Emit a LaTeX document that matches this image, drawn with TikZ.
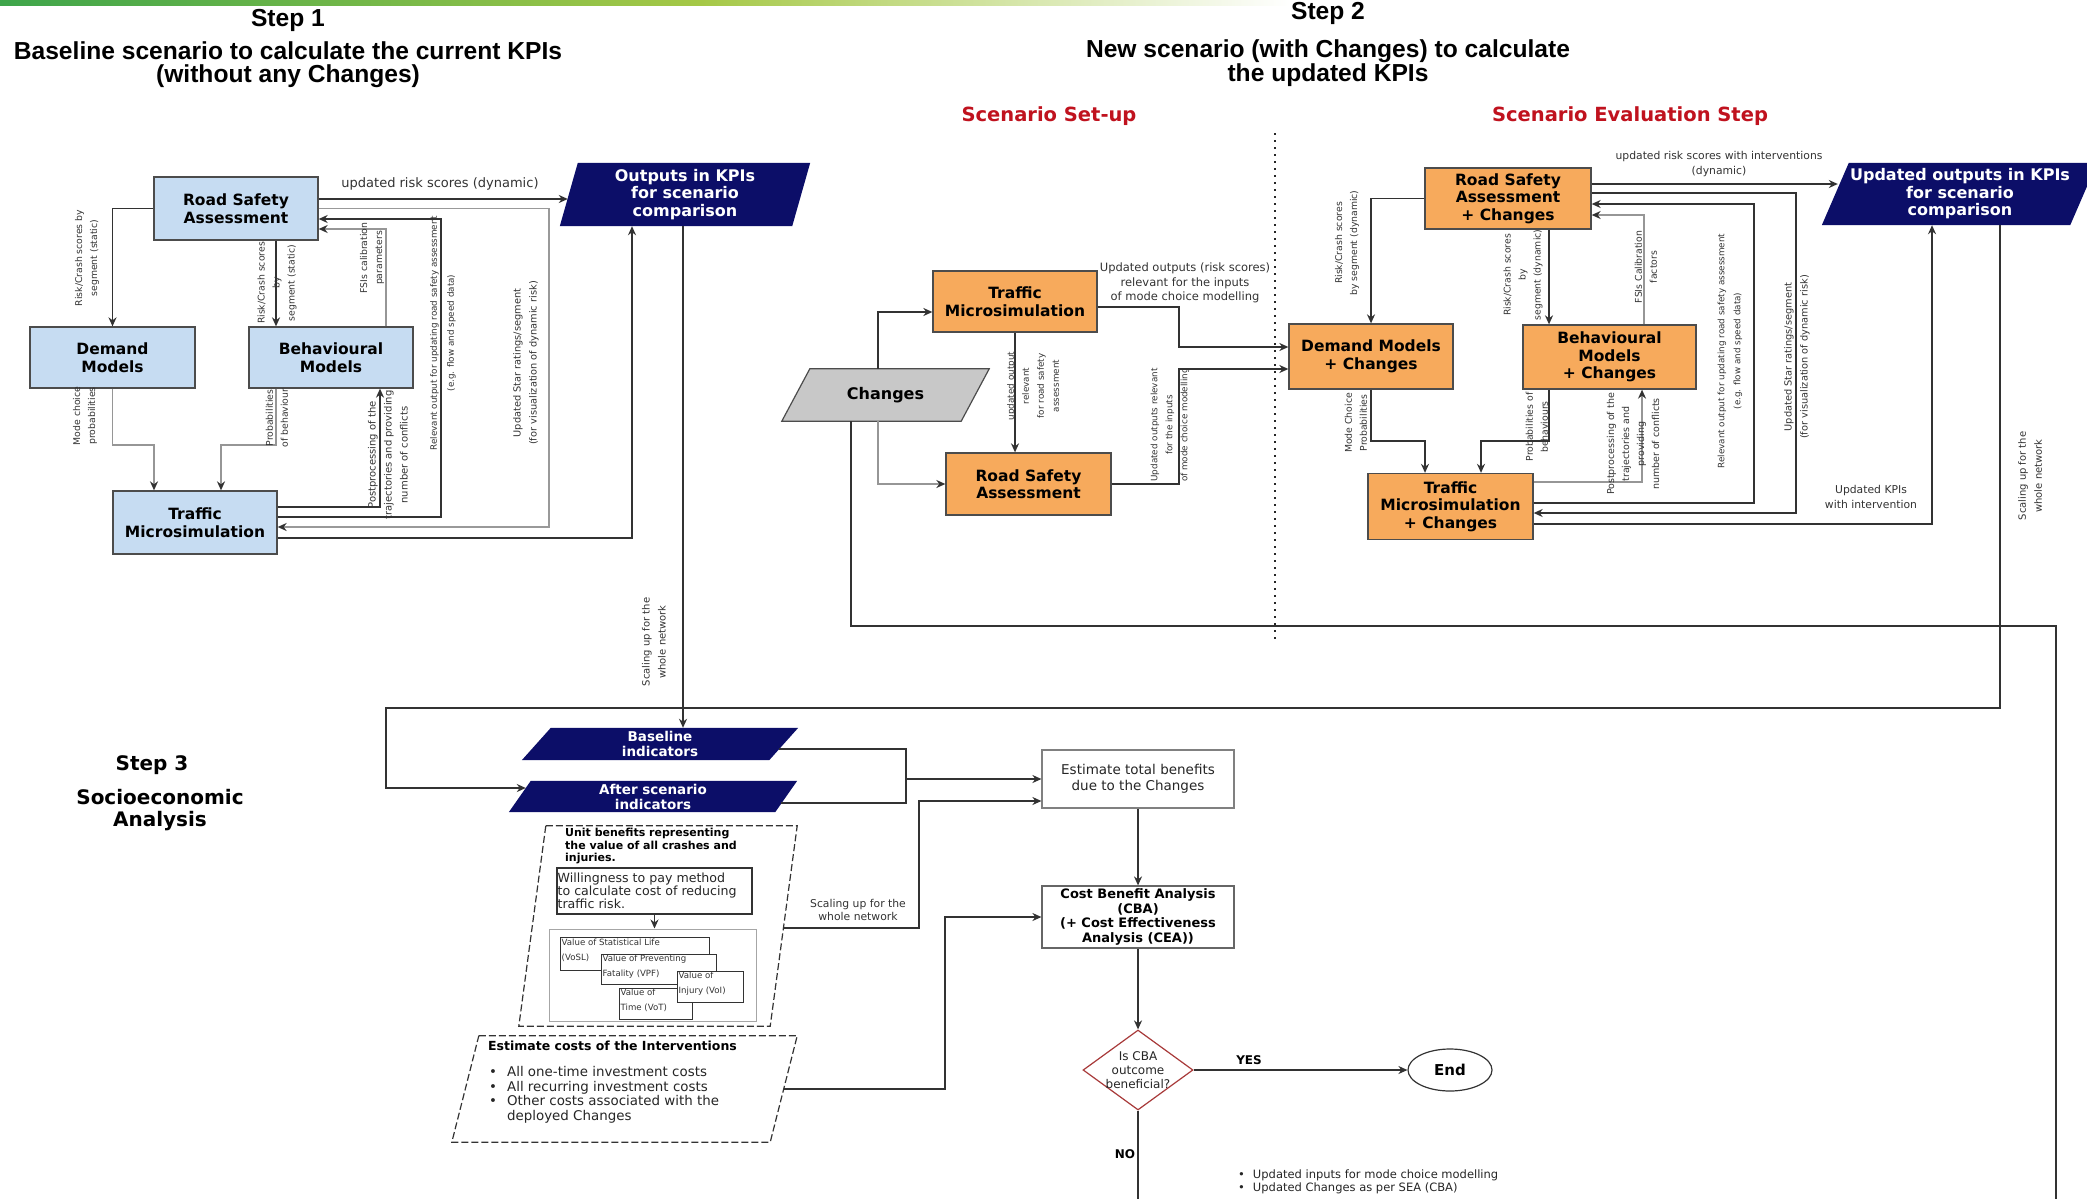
\documentclass[tikz,border=0pt]{standalone}
\usepackage{fontspec}
\setmainfont{DejaVu Sans}
\newfontfamily\libsans{Liberation Sans}
\usetikzlibrary{arrows.meta,calc,shapes.geometric}
\definecolor{lblue}{RGB}{198,220,242}
\definecolor{orng}{RGB}{247,170,92}
\definecolor{navy}{RGB}{12,14,104}
\definecolor{chgray}{RGB}{200,200,200}
\definecolor{redt}{RGB}{192,18,30}
\definecolor{dred}{RGB}{168,58,58}
\definecolor{lnk}{RGB}{50,50,50}
\definecolor{glnk}{RGB}{150,150,150}
\definecolor{gA}{RGB}{62,165,75}
\definecolor{gB}{RGB}{165,200,70}
\newcommand\fsz[2]{\fontsize{#1}{#2}\selectfont}
\newcommand\para[7]{%
 \node[inner sep=0pt, minimum width=#4pt, minimum height=#5pt] (#1) at (#2,#3) {};
 \path[#7] ($(#1.north west)+(#6,0)$) -- (#1.north east) -- ($(#1.south east)+(-#6,0)$) -- (#1.south west) -- cycle;}
\tikzset{
 bx/.style={draw=black!70, line width=1.3pt, inner sep=0pt, align=center, font=\bfseries\fsz{15.5}{17.5}},
 arr/.style={draw=lnk, line width=1.5pt, -{Stealth[length=9pt,width=8pt,color=lnk]}},
 garr/.style={draw=glnk, line width=1.5pt, -{Stealth[length=9pt,width=8pt,color=lnk]}},
 ln/.style={draw=lnk, line width=1.5pt},
 rl/.style={rotate=90, align=center, inner sep=0pt, text=black!80, font=\fsz{9.3}{15}},
 hl/.style={align=center, inner sep=0pt, text=black!80, font=\fsz{10.8}{14.5}},
 wt/.style={text=white, align=center, inner sep=0pt, font=\bfseries\fsz{16}{17.5}},
 wt2/.style={text=white, align=center, inner sep=0pt, font=\bfseries\fsz{13.5}{15}},
 hd/.style={align=center, inner sep=0pt, font=\libsans\bfseries\fsz{24.6}{23}},
 sb/.style={draw=black!80, fill=white, line width=1pt, inner sep=0pt},
 st/.style={font=\fsz{8.6}{15}, align=left, inner sep=0pt, text=black!80, anchor=north west},
}
\begin{document}
\begin{tikzpicture}[x=1pt,y=-1pt]
\useasboundingbox (0,0) rectangle (2087,1199);
\fill[white] (0,0) rectangle (2087,1199);
\shade[left color=gA, right color=gB] (0,0) rectangle (700,6);
\shade[left color=gB, right color=white] (700,0) rectangle (1290,6);

% headings
\node[hd] (s1) at (288,20) {Step 1};
\node[hd] (s1t) at (288,64.5) {Baseline scenario to calculate the current KPIs\\(without any Changes)};
\node[hd] (s2) at (1328,13) {Step 2};
\node[hd] (s2t) at (1328,63.5) {New scenario (with Changes) to calculate\\the updated KPIs};
\node[font=\bfseries\fsz{19.5}{20}, text=redt, inner sep=0pt] (su) at (1049,116) {Scenario Set-up};
\node[font=\bfseries\fsz{19.5}{20}, text=redt, inner sep=0pt] (se) at (1630,116) {Scenario Evaluation Step};
\node[font=\bfseries\fsz{20}{22}, inner sep=0pt] (s3) at (152,765) {Step 3};
\node[font=\bfseries\fsz{20}{22}, inner sep=0pt, align=center] (s3t) at (160,810) {Socioeconomic\\Analysis};

\draw[line width=2.2pt, dash pattern=on 2pt off 5pt, draw=black!85] (1275,133) -- (1275,639);

% Step 1 nodes
\node[bx, fill=lblue, minimum width=164pt, minimum height=63pt] (rsa1) at (236,208.5) {Road Safety\\Assessment};
\node[bx, fill=lblue, minimum width=165pt, minimum height=61pt] (dm1) at (112.5,357.5) {Demand\\Models};
\node[bx, fill=lblue, minimum width=164pt, minimum height=61pt] (bm1) at (331,357.5) {Behavioural\\Models};
\node[bx, fill=lblue, minimum width=164pt, minimum height=63pt] (tm1) at (195,522.5) {Traffic\\Microsimulation};
\para{out1}{685}{194.5}{250}{63}{18}{fill=navy}
\node[wt] (out1t) at (out1) {Outputs in KPIs\\for scenario\\comparison};

% Step 2 nodes
\node[bx, fill=orng, minimum width=164pt, minimum height=61pt] (tm2) at (1015,301.5) {Traffic\\Microsimulation};
\node[bx, fill=orng, minimum width=165pt, minimum height=62pt] (rsa2) at (1028.5,484) {Road Safety\\Assessment};
\para{ch}{885.5}{395}{207}{52}{28}{fill=chgray, draw=black!70, line width=1.2pt}
\node[font=\bfseries\fsz{16}{18}, inner sep=0pt] (cht) at (ch) {Changes};
\node[bx, fill=orng, minimum width=166pt, minimum height=61pt] (rsa3) at (1508,198.5) {Road Safety\\Assessment\\+ Changes};
\node[bx, fill=orng, minimum width=164pt, minimum height=65pt] (dm3) at (1371,356.5) {Demand Models\\+ Changes};
\node[bx, fill=orng, minimum width=173pt, minimum height=64pt] (bm3) at (1609.5,357) {Behavioural\\Models\\+ Changes};
\node[bx, fill=orng, minimum width=165pt, minimum height=66pt] (tm3) at (1450.5,506.5) {Traffic\\Microsimulation\\+ Changes};
\para{out3}{1959.5}{194}{275}{62}{27}{fill=navy}
\node[wt] (out3t) at (1960,194) {Updated outputs in KPIs\\for scenario\\comparison};

% Step 3 nodes
\para{bi}{660}{744}{276}{32}{29}{fill=navy}
\node[wt2] (bit) at (bi) {Baseline\\indicators};
\para{ai}{653}{796.5}{288}{31}{22}{fill=navy}
\node[wt2] (ait) at (ai) {After scenario\\indicators};
\node[draw=black!50, line width=1.2pt, minimum width=192pt, minimum height=58pt, align=center, inner sep=0pt, font=\fsz{13.5}{16}, text=black!85] (etb) at (1138,779) {Estimate total benefits\\due to the Changes};
\node[draw=black!60, line width=1.2pt, minimum width=192pt, minimum height=62pt, align=center, inner sep=0pt, font=\bfseries\fsz{13}{14.5}] (cba) at (1138,917) {Cost Benefit Analysis\\(CBA)\\(+ Cost Effectiveness\\Analysis (CEA))};
\node[diamond, draw=dred, line width=1.2pt, minimum width=110pt, minimum height=80pt, inner sep=0pt] (dia) at (1138,1070) {};
\node[align=center, inner sep=0pt, font=\fsz{12}{14}, text=black!85] (diat) at (1138,1070) {Is CBA\\outcome\\beneficial?};
\node[ellipse, draw=black!80, line width=1.2pt, minimum width=84pt, minimum height=42pt, inner sep=0pt, font=\bfseries\fsz{15}{16}] (endn) at (1450,1070) {End};
\coordinate (noend) at (1138,1199);
\coordinate (loopend) at (2056,1199);
\coordinate (brk) at (906,779);

\para{ub}{658}{926}{278}{200}{27}{draw=black!80, line width=1.2pt, dash pattern=on 7pt off 3pt}
\node[anchor=north west, inner sep=0pt, align=left, font=\bfseries\fsz{11}{12.5}] (ubt) at (565,828) {Unit benefits representing\\the value of all crashes and\\injuries.};
\node[draw=black!80, line width=1.2pt, minimum width=195pt, minimum height=46pt, inner sep=0pt] (wtp) at (654.5,891) {};
\node[anchor=west, align=left, inner sep=0pt, font=\fsz{12.6}{13}, text=black!85] (wtpt) at ($(wtp.west)+(1,0)$) {Willingness to pay method\\to calculate cost of reducing\\traffic risk.};
\node[draw=black!35, line width=1pt, minimum width=207pt, minimum height=92pt, inner sep=0pt] (ib) at (652.5,975) {};
\node[sb, minimum width=149pt, minimum height=33pt] (vosl) at (634.5,953.5) {};
\node[st] (voslt) at ($(vosl.north west)+(2,2)$) {Value of Statistical Life\\(VoSL)};
\node[sb, minimum width=115pt, minimum height=30pt] (vpf) at (658.5,969) {};
\node[st] (vpft) at ($(vpf.north west)+(2,1)$) {Value of Preventing\\Fatality (VPF)};
\node[sb, minimum width=73pt, minimum height=31pt] (vot) at (655.5,1003.5) {};
\node[st] (vott) at ($(vot.north west)+(2,1)$) {Value of\\Time (VoT)};
\node[sb, minimum width=66pt, minimum height=31pt] (voi) at (710,986.5) {};
\node[st] (voit) at ($(voi.north west)+(2,1)$) {Value of\\Injury (VoI)};

\para{ec}{624.5}{1089}{345}{106}{27}{draw=black!80, line width=1.2pt, dash pattern=on 7pt off 3pt}
\node[anchor=north west, inner sep=0pt, font=\bfseries\fsz{12.5}{14}] (ect) at (488,1041) {Estimate costs of the Interventions};
\node[anchor=north west, inner sep=0pt, font=\fsz{13.4}{14.7}, text=black!85] (ecb) at (489,1066) {\begin{tabular}{@{}l@{\hspace{10pt}}l@{}}\textbullet & All one-time investment costs\\ \textbullet & All recurring investment costs\\ \textbullet & Other costs associated with the\\ & deployed Changes\end{tabular}};

\node[anchor=north west, inner sep=0pt, font=\fsz{11.5}{12}, text=black!85] (bl) at (1238,1170) {\begin{tabular}{@{}l@{\hspace{8pt}}l@{}}\textbullet & Updated inputs for mode choice modelling\\ \textbullet & Updated Changes as per SEA (CBA)\end{tabular}};

% Step 1 connectors
\draw[arr] (rsa1.west) -| (dm1.north);
\draw[arr] (276,0 |- rsa1.south) -- (276,0 |- bm1.north);
\draw[garr] (386,0 |- bm1.north) |- (rsa1.east |- 0,229);
\draw[arr] (tm1.east |- 0,517) -| (441,219) -- (rsa1.east |- 0,219);
\draw[garr, draw=black!40] (rsa1.east) -| (549,527) -- (tm1.east |- 0,527);
\draw[arr] (rsa1.east |- 0,199) -- ($(out1.west)+(8,4.5)$);
\draw[arr] (tm1.east |- 0,507) -| (380,0 |- bm1.south);
\draw[garr] (dm1.south) |- (154,445) -- (154,0 |- tm1.north);
\draw[garr] (276,0 |- bm1.south) |- (221,445) -- (221,0 |- tm1.north);
\draw[arr] (tm1.east |- 0,538) -| ($(out1.south)+(-53,0)$);
\draw[arr] (683,0 |- out1.south) -- (683,0 |- bi.north);

% Step 2 connectors
\draw[arr] (878,0 |- ch.north) |- (tm2.west |- 0,312);
\draw[garr] (878,0 |- ch.south) |- (rsa2.west);
\draw[ln] (851,0 |- ch.south) -- (851,626) -- (2056,626) -- (loopend);
\draw[arr] (tm2.south) -- (tm2.south |- rsa2.north);
\draw[arr] (tm2.east |- 0,307) -| (1179,347) -- (dm3.west |- 0,347);
\draw[arr] (rsa2.east) -| (1179,369) -- (dm3.west |- 0,369);
\draw[arr] (rsa3.west) -| (dm3.north);
\draw[arr] (1549,0 |- rsa3.south) -- (1549,0 |- bm3.north);
\draw[garr] (1644,0 |- bm3.north) |- (rsa3.east |- 0,215);
\draw[arr] (dm3.south) |- (1425,441) -- (1425,0 |- tm3.north);
\draw[arr] (1549,0 |- bm3.south) |- (1481,441) -- (1481,0 |- tm3.north);
\draw[garr] (tm3.east |- 0,482) -| (1642,0 |- bm3.south);
\draw[arr] (tm3.east |- 0,503) -| (1754,204) -- (rsa3.east |- 0,204);
\draw[arr] (rsa3.east |- 0,193) -| (1796,513) -- (tm3.east |- 0,513);
\draw[arr] (rsa3.east |- 0,184) -- ($(out3.west)+(16,-10)$);
\draw[arr] (tm3.east |- 0,524) -| (1932,0 |- out3.south);
\draw[arr] (2000,0 |- out3.south) -- (2000,708) -| (386,788) -- ($(ai.west)+(17,-8.5)$);

% Step 3 connectors
\draw[ln] ($(bi.east)+(-19,5)$) -- (906,749) -- (906,803) -- ($(ai.east)+(-16,6.5)$);
\draw[arr] (brk) -- (etb.west);
\draw[arr] ($(ub.east)+(-14,2)$) -| (919,801) -- (etb.west |- 0,801);
\draw[arr] ($(ec.east)+(-13.5,0)$) -| (945,0 |- cba.west) -- (cba.west);
\draw[arr] (etb.south) -- (cba.north);
\draw[arr] (cba.south) -- (dia.north);
\draw[arr] (dia.east) -- (endn.west);
\draw[ln] (dia.south) -- (noend);
\draw[arr] (wtp.south) -- (wtp.south |- ib.north);

% labels step 1
\node[rl] (l1) at (87,258) {Risk/Crash scores by\\segment (static)};
\node[rl] (l2) at (277,283) {Risk/Crash scores\\by\\segment (static)};
\node[rl] (l3) at (372,258) {FSIs calibration\\parameters};
\node[rl] (l4) at (85,416) {Mode choice\\probabilities};
\node[rl] (l5) at (277,418) {Probabilities\\of behaviour};
\node[rl, font=\fsz{10}{16}] (l6) at (388,455) {Postprocessing of the\\trajectories and providing\\number of conflicts};
\node[rl, font=\fsz{8.8}{17}] (l7) at (443,333) {Relevant output for updating road safety assessment\\(e.g. flow and speed data)};
\node[rl, font=\fsz{9.8}{16}] (l8) at (526,363) {Updated Star ratings/segment\\(for visualization of dynamic risk)};
\node[hl, font=\fsz{13}{15}] (l9) at (440,184) {updated risk scores (dynamic)};
% labels step 2
\node[hl, font=\fsz{11.5}{14.5}] (l10) at (1185,283) {Updated outputs (risk scores)\\relevant for the inputs\\of mode choice modelling};
\node[rl, font=\fsz{8.8}{15}] (l11) at (1033,386) {updated output\\relevant\\for road safety\\assessment};
\node[rl, font=\fsz{8.8}{15}] (l12) at (1170,425) {Updated outputs relevant\\for the inputs\\of mode choice modelling};
\node[rl] (l13) at (1347,243) {Risk/Crash scores\\by segment (dynamic)};
\node[rl] (l14) at (1523,275) {Risk/Crash scores\\by\\segment (dynamic)};
\node[rl] (l15) at (1646,267) {FSIs Calibration\\factors};
\node[rl] (l16) at (1356,423) {Mode Choice\\Probabilities};
\node[rl] (l17) at (1537,427) {Probabilities of\\behaviours};
\node[rl, font=\fsz{9.5}{15}] (l18) at (1633,444) {Postprocessing of the\\trajectories and\\providing\\number of conflicts};
\node[rl, font=\fsz{8.8}{16}] (l19) at (1730,351) {Relevant output for updating road safety assessment\\(e.g. flow and speed data)};
\node[rl, font=\fsz{9.8}{16}] (l20) at (1797,357) {Updated Star ratings/segment\\(for visualization of dynamic risk)};
\node[hl] (l21) at (1719,164) {updated risk scores with interventions\\(dynamic)};
\node[hl] (l22) at (1871,497) {Updated KPIs\\with intervention};
\node[rl, font=\fsz{10}{16}] (l23) at (2030,476) {Scaling up for the\\whole network};
\node[rl, font=\fsz{10}{16}] (l24) at (654,642) {Scaling up for the\\whole network};
% labels step 3
\node[hl, font=\fsz{10.8}{12.5}] (l25) at (858,910) {Scaling up for the\\whole network};
\node[font=\bfseries\fsz{12}{14}, inner sep=0pt] (yes) at (1249,1060) {YES};
\node[font=\bfseries\fsz{12}{14}, inner sep=0pt] (no) at (1125,1154) {NO};
\end{tikzpicture}
\end{document}
